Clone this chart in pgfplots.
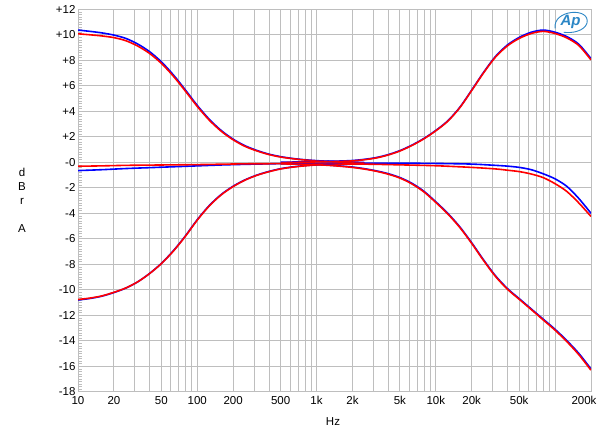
\documentclass[border=0pt]{standalone}
\usepackage{pgfplots}
\pgfplotsset{compat=1.18}
\usepackage{fontspec}
\setmainfont{Liberation Sans}
\definecolor{apblue}{HTML}{0000FF}
\definecolor{apred}{HTML}{FF0000}
\definecolor{apgrid}{HTML}{BEBEBE}
\definecolor{aplogo}{HTML}{2B86C5}

\begin{document}
\begin{tikzpicture}
\begin{axis}[
  name=ax, at={(0,0)}, anchor=south west,
  scale only axis, width=513pt, height=382.5pt,
  xmode=log, log basis x=10,
  xmin=10, xmax=200000, ymin=-18, ymax=12,
  font=\fontsize{11.5}{13}\selectfont,
  xtick={10,20,50,100,200,500,1000,2000,5000,10000,20000,50000},
  xticklabels={10,20,50,100,200,500,1k,2k,5k,10k,20k,50k},
  extra x ticks={200000}, extra x tick labels={200k},
  extra x tick style={xticklabel style={xshift=-7pt}},
  minor xtick={30,40,60,70,80,90,300,400,600,700,800,900,
    3000,4000,6000,7000,8000,9000,30000,40000,60000,70000,80000,90000,100000},
  ytick={-18,-16,...,12},
  yticklabels={-18,-16,-14,-12,-10,-8,-6,-4,-2,-0,+2,+4,+6,+8,+10,+12},
  minor y tick num=9,
  ytick pos=left,
  major tick length=0pt, minor tick length=4pt,
  minor x tick style={draw=none},
  minor y tick style={apgrid, line width=0.6pt},
  xmajorgrids=true, xminorgrids=true, ymajorgrids=true,
  major grid style={apgrid, line width=0.9pt},
  minor grid style={apgrid, line width=0.9pt},
  axis line style={apgrid, line width=0.9pt},
  xticklabel style={yshift=-1pt},
  yticklabel style={xshift=1pt},
]
% flat response
\addplot[apblue, line width=1.6pt, smooth] coordinates {
  (10,-0.65) (15.85,-0.58) (25.12,-0.49) (39.81,-0.42) (63.1,-0.35) (100,-0.28)
  (158.5,-0.21) (251.2,-0.16) (398.1,-0.12) (631,-0.09) (1000,-0.08) (2000,-0.07)
  (5000,-0.07) (10000,-0.09) (19953,-0.14) (31623,-0.24) (39811,-0.3) (50119,-0.4)
  (63096,-0.58) (79433,-0.9) (100000,-1.3) (125893,-1.9) (158489,-2.85) (200000,-4.0)};
\addplot[apred, line width=1.6pt, smooth] coordinates {
  (10,-0.31) (15.85,-0.28) (25.12,-0.24) (39.81,-0.22) (63.1,-0.2) (100,-0.18)
  (158.5,-0.15) (251.2,-0.12) (398.1,-0.11) (631,-0.1) (1000,-0.1) (2000,-0.13)
  (3162,-0.16) (5000,-0.2) (10000,-0.27) (19953,-0.4) (31623,-0.52) (39811,-0.62)
  (50119,-0.73) (63096,-0.92) (79433,-1.2) (100000,-1.68) (125893,-2.3)
  (158489,-3.2) (200000,-4.25)};
% bass boost
\addplot[apblue, line width=1.6pt, smooth] coordinates {
  (10,10.37) (12.59,10.27) (15.85,10.15) (19.95,9.98) (25.12,9.72) (31.62,9.28)
  (39.81,8.68) (50.12,7.87) (63.1,6.85) (79.43,5.68) (100,4.46) (125.9,3.38)
  (158.5,2.5) (199.5,1.82) (251.2,1.3) (316.2,0.93) (398.1,0.64) (501.2,0.44)
  (631,0.3) (794.3,0.2) (1000,0.13) (1259,0.08) (1585,0.04) (1995,0.02) (2512,-0.02)};
\addplot[apred, line width=1.6pt, smooth] coordinates {
  (10,10.08) (12.59,10.0) (15.85,9.91) (19.95,9.78) (25.12,9.54) (31.62,9.12)
  (39.81,8.54) (50.12,7.75) (63.1,6.75) (79.43,5.59) (100,4.38) (125.9,3.31)
  (158.5,2.44) (199.5,1.77) (251.2,1.25) (316.2,0.89) (398.1,0.61) (501.2,0.41)
  (631,0.28) (794.3,0.18) (1000,0.11) (1259,0.06) (1585,0.02) (1995,-0.01) (2512,-0.05)};
% bass cut
\addplot[apblue, line width=1.6pt, smooth] coordinates {
  (10,-10.8) (12.59,-10.68) (15.85,-10.5) (19.95,-10.22) (25.12,-9.87) (31.62,-9.38)
  (39.81,-8.72) (50.12,-7.92) (63.1,-6.93) (79.43,-5.78) (100,-4.5) (125.9,-3.4)
  (158.5,-2.53) (199.5,-1.88) (251.2,-1.38) (316.2,-1.0) (398.1,-0.72) (501.2,-0.5)
  (631,-0.36) (794.3,-0.26) (1000,-0.19) (1259,-0.15) (1585,-0.12) (1995,-0.1) (2512,-0.09)};
\addplot[apred, line width=1.6pt, smooth] coordinates {
  (10,-10.76) (12.59,-10.65) (15.85,-10.48) (19.95,-10.2) (25.12,-9.86) (31.62,-9.38)
  (39.81,-8.73) (50.12,-7.94) (63.1,-6.96) (79.43,-5.81) (100,-4.53) (125.9,-3.43)
  (158.5,-2.56) (199.5,-1.91) (251.2,-1.4) (316.2,-1.02) (398.1,-0.74) (501.2,-0.52)
  (631,-0.38) (794.3,-0.28) (1000,-0.21) (1259,-0.17) (1585,-0.14) (1995,-0.13) (2512,-0.13)};
% treble boost
\addplot[apblue, line width=1.6pt, smooth] coordinates {
  (500,0.0) (794.3,0.04) (1000,0.06) (1259,0.08) (1585,0.1) (1995,0.14) (2512,0.23)
  (3162,0.37) (3981,0.6) (5012,0.92) (6310,1.35) (7943,1.87) (10000,2.5)
  (12589,3.25) (15849,4.3) (19953,5.65) (25119,7.05) (31623,8.3) (39811,9.2)
  (50119,9.8) (63096,10.2) (79433,10.37) (100000,10.2) (125893,9.85)
  (158489,9.25) (199526,8.14)};
\addplot[apred, line width=1.6pt, smooth] coordinates {
  (500,-0.03) (794.3,0.01) (1000,0.03) (1259,0.05) (1585,0.07) (1995,0.11) (2512,0.2)
  (3162,0.34) (3981,0.57) (5012,0.89) (6310,1.32) (7943,1.84) (10000,2.47)
  (12589,3.22) (15849,4.27) (19953,5.62) (25119,7.01) (31623,8.25) (39811,9.13)
  (50119,9.72) (63096,10.1) (79433,10.27) (100000,10.1) (125893,9.75)
  (158489,9.15) (199526,8.04)};
% treble cut
\addplot[apblue, line width=1.6pt, smooth] coordinates {
  (500,-0.1) (794.3,-0.14) (1000,-0.17) (1259,-0.22) (1585,-0.29) (1995,-0.37)
  (2512,-0.5) (3162,-0.67) (3981,-0.89) (5012,-1.2) (6310,-1.65) (7943,-2.27)
  (10000,-3.1) (12589,-4.0) (15849,-5.05) (19953,-6.3) (25119,-7.65) (31623,-8.9)
  (39811,-9.9) (50119,-10.7) (63096,-11.5) (79433,-12.3) (100000,-13.1)
  (125893,-14.0) (158489,-15.0) (199526,-16.2)};
\addplot[apred, line width=1.6pt, smooth] coordinates {
  (500,-0.12) (794.3,-0.16) (1000,-0.19) (1259,-0.24) (1585,-0.31) (1995,-0.4)
  (2512,-0.53) (3162,-0.7) (3981,-0.93) (5012,-1.24) (6310,-1.7) (7943,-2.32)
  (10000,-3.15) (12589,-4.05) (15849,-5.1) (19953,-6.35) (25119,-7.7) (31623,-8.95)
  (39811,-9.95) (50119,-10.75) (63096,-11.55) (79433,-12.36) (100000,-13.17)
  (125893,-14.08) (158489,-15.1) (199526,-16.3)};
% Ap logo
\node[text=aplogo, font=\fontsize{15}{15}\selectfont\bfseries\itshape]
  at (axis cs:135000,11.0) {Ap};
\draw[aplogo, line width=0.9pt]
  (axis cs:100000,10.5) .. controls (axis cs:95000,12.0) and (axis cs:200000,12.2) .. (axis cs:185000,10.9)
  .. controls (axis cs:175000,10.3) and (axis cs:140000,10.1) .. (axis cs:118000,10.2);
\end{axis}
\begin{scope}[font=\fontsize{11.5}{13}\selectfont]
\node at (-56pt,219.1pt) {d};
\node at (-56pt,205.1pt) {B};
\node at (-56pt,190.8pt) {r};
\node at (-56pt,163.5pt) {A};
\node at (255pt,-30.2pt) {Hz};
\end{scope}
\pgfresetboundingbox
\path[use as bounding box] (-78pt,-50.2pt) rectangle (522pt,391.8pt);
\end{tikzpicture}
\end{document}
